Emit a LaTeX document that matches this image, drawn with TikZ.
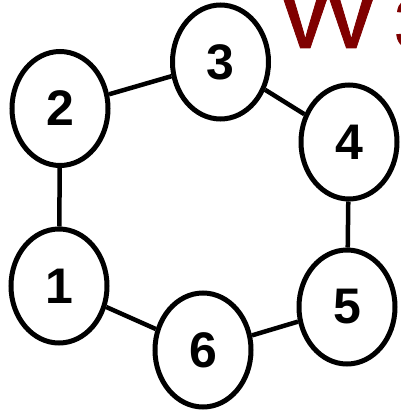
\documentclass[tikz,border=0pt]{standalone}
\usepackage{fontspec}
\setmainfont{Liberation Sans}
\newfontfamily\titlefont[FakeBold=1.2]{Liberation Sans Bold}
\usetikzlibrary{shapes.geometric}
\definecolor{titlered}{RGB}{128,0,0}
\begin{document}
\begin{tikzpicture}[x=1pt,y=-1pt,
  vertex/.style={ellipse,draw=black,line width=5pt,fill=white,minimum width=96pt,minimum height=114pt,inner sep=0pt,font=\fontsize{50}{50}\selectfont\bfseries},
  link/.style={line width=4.5pt,draw=black}]
\clip (0,0) rectangle (401,412);
\useasboundingbox (0,0) rectangle (401,412);
\node[anchor=base west,text=titlered,font=\fontsize{66}{66}\titlefont,inner sep=0pt] (title) at (283,48) {\scalebox{1}[1.08]{V\kern2ptV\kern22pt3}};
\node[vertex] (n1) at (59,286) {1};
\node[vertex] (n2) at (60,108.5) {2};
\node[vertex] (n3) at (220.5,62) {3};
\node[vertex] (n4) at (349,142) {4};
\node[vertex] (n5) at (347,307) {5};
\node[vertex] (n6) at (203,350) {6};
\draw[link] (n1) -- (n2);
\draw[link] (n2) -- (n3);
\draw[link] (n3) -- (n4);
\draw[link] (n4) -- (n5);
\draw[link] (n5) -- (n6);
\draw[link] (n6) -- (n1);
\end{tikzpicture}
\end{document}
